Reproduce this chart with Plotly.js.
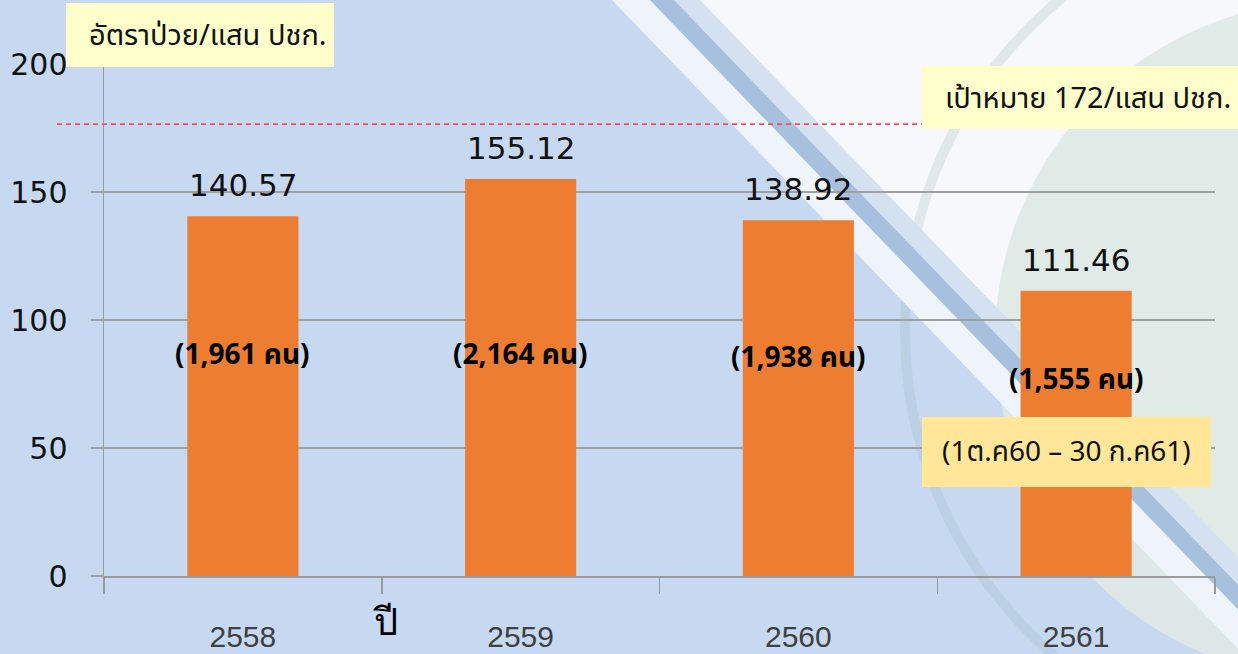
<!DOCTYPE html>
<html>
<head>
<meta charset="utf-8">
<script src="https://cdn.plot.ly/plotly-3.0.1.min.js"></script>
<style>html,body{margin:0;padding:0;background:#c6d9f0;}#chart{width:1238px;height:654px;}</style>
</head>
<body>
<div id="chart"></div>
<script>
// ---- data ----
var years = ['2558', '2559', '2560', '2561'];
var rates = [140.57, 155.12, 138.92, 111.46];
var rateLabels = ['140.57', '155.12', '138.92', '111.46'];
var caseLabels = ['(1,961 คน)', '(2,164 คน)', '(1,938 คน)', '(1,555 คน)'];
var caseLabelLevels = [86, 86, 85, 76.5];
var targetLevel = 176.5;
var yTicks = [0, 50, 100, 150, 200];
var yTitle = 'อัตราป่วย/แสน ปชก.';
var targetText = 'เป้าหมาย 172/แสน ปชก.';
var periodText = '(1ต.ค60 – 30 ก.ค61)';
var xTitle = 'ปี';

// ---- layout helpers (pixel -> paper) ----
var W = 1238, H = 654, ML = 104, MR = 23, MT = 64, MB = 78;
var PW = W - ML - MR, PH = H - MT - MB;
function px(x) { return (x - ML) / PW; }
function py(y) { return (H - MB - y) / PH; }
function poly(pts) {
  return 'M' + pts.map(function (p) { return px(p[0]) + ',' + py(p[1]); }).join('L') + 'Z';
}
// diagonal watermark band: x = x0 + k*y
function band(a, b, color) {
  var k = 0.965, y1 = -5, y2 = 700;
  return {type: 'path', xref: 'paper', yref: 'paper', layer: 'below', line: {width: 0}, fillcolor: color,
    path: poly([[a + k * y1, y1], [b + k * y1, y1], [b + k * y2, y2], [a + k * y2, y2]])};
}

var thaiFont = 'Tahoma, "Noto Sans Thai", Loma, Garuda, "DejaVu Sans", sans-serif';

var shapes = [
  // light region right of the diagonal
  band(690, 1400, '#f6f8fb'),
  // logo disk and ring (faint watermark)
  {type: 'circle', xref: 'paper', yref: 'paper', layer: 'below', line: {width: 0},
   fillcolor: 'rgba(222,232,228,0.9)', x0: px(995), x1: px(1675), y0: py(680), y1: py(0)},
  {type: 'circle', xref: 'paper', yref: 'paper', layer: 'below',
   x0: px(905), x1: px(1765), y0: py(760), y1: py(-100),
   line: {color: 'rgba(150,176,180,0.22)', width: 10}},
  // white band left of stripe, stripe and light band right of it
  band(612, 650, '#eef4fa'),
  band(650, 674, '#a6c0de'),
  band(674, 700, '#d3e1f0'),
  // target dashed line
  {type: 'line', xref: 'paper', yref: 'y', x0: px(57), x1: px(930), y0: targetLevel, y1: targetLevel,
   line: {color: '#f0505a', width: 1.8, dash: '5px,4px'}},
  // text boxes
  {type: 'rect', xref: 'paper', yref: 'paper', layer: 'above', line: {width: 0}, fillcolor: '#ffffcc',
   x0: px(66), x1: px(334), y0: py(67), y1: py(3)},
  {type: 'rect', xref: 'paper', yref: 'paper', layer: 'above', line: {width: 0}, fillcolor: '#ffffcc',
   x0: px(922), x1: px(1250), y0: py(129), y1: py(66)},
  {type: 'rect', xref: 'paper', yref: 'paper', layer: 'above', line: {width: 0}, fillcolor: '#ffe699',
   x0: px(922), x1: px(1211), y0: py(487), y1: py(417)}
];

var annotations = [];
years.forEach(function (yr, i) {
  annotations.push({x: i, y: rates[i], xref: 'x', yref: 'y', text: rateLabels[i], showarrow: false,
    yanchor: 'middle', yshift: 31, font: {family: '"DejaVu Sans", sans-serif', size: 31, color: '#111'}});
  annotations.push({x: i, y: caseLabelLevels[i], xref: 'x', yref: 'y', text: '<b>' + caseLabels[i] + '</b>',
    showarrow: false, yanchor: 'middle', font: {family: thaiFont, size: 28, color: '#000'}});
});
annotations.push({xref: 'paper', yref: 'paper', x: px(208), y: py(36), text: yTitle, showarrow: false,
  xanchor: 'center', yanchor: 'middle', font: {family: thaiFont, size: 29, color: '#111'}});
annotations.push({xref: 'paper', yref: 'paper', x: px(943), y: py(99), text: targetText, showarrow: false,
  xanchor: 'left', yanchor: 'middle', font: {family: thaiFont, size: 29, color: '#111'}});
annotations.push({xref: 'paper', yref: 'paper', x: px(1066), y: py(452), text: periodText, showarrow: false,
  xanchor: 'center', yanchor: 'middle', font: {family: thaiFont, size: 28, color: '#111'}});
annotations.push({xref: 'paper', yref: 'paper', x: px(385), y: py(622), text: xTitle, showarrow: false,
  xanchor: 'center', yanchor: 'middle', font: {family: '"DejaVu Serif", serif', size: 38, color: '#000'}});

var trace = {
  type: 'bar', x: years, y: rates, width: 0.4,
  marker: {color: '#ed7d31', line: {width: 0}},
  hoverinfo: 'x+y'
};

var layout = {
  width: W, height: H,
  margin: {l: ML, r: MR, t: MT, b: MB, pad: 0},
  paper_bgcolor: '#c6d9f0',
  plot_bgcolor: 'rgba(0,0,0,0)',
  showlegend: false,
  xaxis: {
    type: 'category', range: [-0.5, 3.5], showgrid: false, zeroline: false,
    showline: true, linecolor: '#9a9a9a', linewidth: 2,
    ticks: 'outside', tickson: 'boundaries', ticklen: 16, tickcolor: '#9a9a9a', tickwidth: 1.5,
    ticklabelstandoff: 33,
    tickfont: {family: '"Liberation Sans Narrow", "Arial Narrow", sans-serif', size: 30, color: '#404040'}
  },
  yaxis: {
    range: [0, 200], tickvals: yTicks, ticktext: yTicks.map(String),
    showgrid: true, gridcolor: '#a0a0a0', gridwidth: 1.5, zeroline: false,
    showline: true, linecolor: '#9a9a9a', linewidth: 1.5,
    ticks: 'outside', ticklen: 12, tickcolor: '#a0a0a0', tickwidth: 1.5,
    ticklabelstandoff: 17,
    tickfont: {family: '"DejaVu Sans", sans-serif', size: 30, color: '#111'}
  },
  shapes: shapes,
  annotations: annotations
};

Plotly.newPlot('chart', [trace], layout, {staticPlot: true, displayModeBar: false});
</script>
</body>
</html>
